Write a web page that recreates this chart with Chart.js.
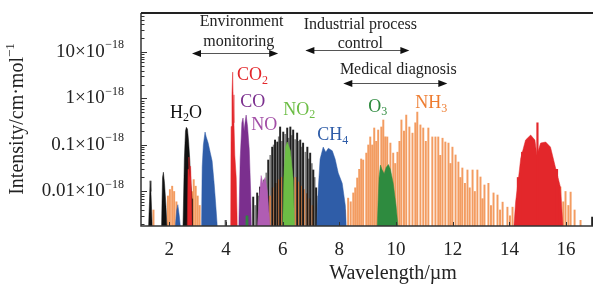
<!DOCTYPE html>
<html><head><meta charset="utf-8">
<script src="https://cdn.jsdelivr.net/npm/chart.js@4"></script>
<style>html,body{margin:0;padding:0;background:#fff;overflow:hidden}</style>
</head><body>
<canvas id="c" width="593" height="290"></canvas>
<script>
// ---------- DATA (wavelength µm, intensity in 1e-18 cm/mol) ----------
const F = 0.0015; // baseline (band edge)
const xTicks = [2, 4, 6, 8, 10, 12, 14, 16];
const yMajor = [10, 1, 0.1, 0.01];
const yMajorLabels = ['10', '1', '0.1', '0.01'];

// H2O (black)
const h2o_13 = [[1.26,F],[1.3,0.006],[1.32,0.017],[1.35,0.01],[1.4,F]];
const h2o_19 = [[1.72,F],[1.76,0.02],[1.79,0.026],[1.83,0.015],[1.88,0.005],[1.92,F]];
const h2o_27 = [[2.48,F],[2.53,0.05],[2.57,0.2],[2.6,0.24],[2.64,0.22],[2.68,0.12],[2.72,0.05],[2.76,0.015],[2.8,0.007],[2.82,F]];
const h2o_63 = [[4.96,0.0076],[5.10,0.0093],[5.20,0.0125],[5.35,0.0177],[5.49,0.0475],[5.63,0.09],[5.73,0.128],[5.81,0.116],[5.91,0.244],[6.02,0.19],[6.16,0.232],[6.27,0.244],[6.37,0.21],[6.51,0.181],[6.62,0.128],[6.72,0.11],[6.87,0.09],[6.97,0.067],[7.08,0.029],[7.18,0.012],[16.92,0.0028]];
const h2o_63w = [[5.03,0.005],[5.15,0.008],[5.28,0.011],[5.42,0.025],[5.56,0.06],[5.68,0.1],[5.86,0.15],[5.97,0.12],[6.09,0.17],[6.21,0.14],[6.32,0.16],[6.44,0.13],[6.56,0.12],[6.67,0.09],[6.80,0.07],[6.92,0.05],[7.03,0.04],[7.13,0.02],[7.25,0.008]];
// NH3 (orange)
const nh3 = [[1.44,0.004],[1.95,0.008],[2.02,0.011],[2.1,0.013],[2.17,0.01],[2.25,0.006],
 [2.8,0.01],[2.86,0.018],[2.93,0.013],[3.0,0.008],[3.07,0.005],
 [5.55,0.008],[5.65,0.012],[5.75,0.015],[5.85,0.018],[5.95,0.02],[6.05,0.022],[6.15,0.02],[6.25,0.017],[6.35,0.015],[6.45,0.02],[6.55,0.016],[6.65,0.013],[6.75,0.011],[6.85,0.009],[6.95,0.007],[7.05,0.005],
 [8.20,0.004],[8.31,0.0072],[8.40,0.006],[8.49,0.0093],[8.56,0.012],[8.63,0.0195],[8.70,0.03],[8.77,0.05],[8.84,0.0475],[8.95,0.067],[9.02,0.1],[9.09,0.149],[9.16,0.1],[9.23,0.232],[9.30,0.12],[9.37,0.21],[9.48,0.244],[9.55,0.345],[9.62,0.15],[9.69,0.149],[9.80,0.11],[9.90,0.067],[9.97,0.04],[10.05,0.07],[10.12,0.12],[10.19,0.345],[10.28,0.2],[10.36,0.44],[10.47,0.244],[10.58,0.18],[10.68,0.3],[10.75,0.51],[10.86,0.27],[10.96,0.232],[11.05,0.12],[11.14,0.232],[11.28,0.149],[11.39,0.149],[11.49,0.149],[11.56,0.06],[11.64,0.14],[11.74,0.116],[11.85,0.11],[11.92,0.04],[11.99,0.09],[12.10,0.061],[12.20,0.043],[12.27,0.02],[12.34,0.032],[12.43,0.015],[12.52,0.029],[12.60,0.012],[12.70,0.029],[12.78,0.01],[12.87,0.029],[12.98,0.0205],[13.05,0.007],[13.12,0.0138],[13.26,0.015],[13.35,0.005],[13.44,0.0093],[13.58,0.0084],[13.67,0.004],[13.76,0.0059],[13.93,0.0046],[14.02,0.003],[14.11,0.0046],
 [15.8,0.0125],[15.9,0.006],[15.98,0.01],[16.08,0.005],[16.16,0.0097],[16.3,0.004],[16.51,0.0024]];
// CO2 (red)
const co2_27 = [[2.63,F],[2.66,0.03],[2.69,0.055],[2.72,0.02],[2.75,0.035],[2.78,0.01],[2.8,F]];
const co2_43 = [[4.16,F],[4.18,0.25],[4.21,1.2],[4.235,3.7],[4.25,1.2],[4.28,0.3],[4.31,0.06],[4.36,0.02],[4.4,F]];
const co2_15 = [[14.15,F],[14.22,0.006],[14.3,0.015],[14.4,0.052],[14.57,0.128],[14.75,0.164],[14.9,0.128],[14.97,0.06],[15.1,0.11],[15.28,0.116],[15.45,0.09],[15.62,0.034],[15.8,0.0125],[15.9,F]];
const co2_lines = [[14.3,0.02],[14.45,0.07],[14.99,0.30],[15.68,0.03]];
// CO, NO, NO2
const co = [[4.45,F],[4.5,0.05],[4.56,0.3],[4.6,0.38],[4.64,0.2],[4.67,0.3],[4.71,0.44],[4.76,0.25],[4.82,0.08],[4.87,0.01],[4.9,F]];
const no = [[5.1,F],[5.18,0.008],[5.24,0.022],[5.3,0.015],[5.38,0.02],[5.46,0.01],[5.56,F]];
const no2 = [[6.0,F],[6.04,0.02],[6.1,0.09],[6.16,0.116],[6.27,0.075],[6.37,0.018],[6.42,F]];
// CH4 (blue)
const ch4_23 = [[2.2,F],[2.26,0.004],[2.3,0.0052],[2.35,0.003],[2.4,F]];
const ch4_33 = [[3.13,F],[3.16,0.034],[3.2,0.1],[3.26,0.19],[3.3,0.15],[3.37,0.11],[3.44,0.07],[3.51,0.045],[3.58,0.015],[3.63,0.006],[3.7,F]];
const ch4_77 = [[7.2,F],[7.25,0.01],[7.32,0.05],[7.43,0.09],[7.52,0.07],[7.61,0.085],[7.75,0.075],[7.85,0.05],[7.96,0.025],[8.1,0.015],[8.21,0.005],[8.25,F]];
// O3 (dark green)
const o3_96 = [[9.33,F],[9.4,0.02],[9.45,0.037],[9.5,0.03],[9.58,0.024],[9.65,0.033],[9.73,0.038],[9.8,0.03],[9.9,0.015],[10.0,0.005],[10.08,F]];
const o3_47 = [[4.69,F],[4.7,0.003],[4.76,0.003],[4.77,F]];
// other (gray)
const misc = [[3.99,0.0024]];

// ---------- COLORS ----------
const C = {
  h2o:'#111111', comb:'rgba(10,10,10,0.9)', combw:'rgba(90,90,90,0.75)', nh3:'rgba(240,128,52,0.78)', co2:'#e3272b',
  co:'#7b2f8e', no:'#b05db3', no2:'#6cbd45', ch4:'#2f5da8', o3:'#2e8b3f', misc:'#555555'
};
const LBL = {h2o:'#111', co2:'#e3272b', co:'#7b2f8e', no:'#a24ea6', no2:'#6cbd45', ch4:'#2f5da8', o3:'#2e8b3f', nh3:'#ee7d31'};

const pts = a => a.map(p => ({x:p[0], y:p[1]}));
const band = (d, col, ord) => ({type:'line', data:pts(d), backgroundColor:col, borderColor:col, borderWidth:0.5, fill:'start', pointRadius:0, tension:0, order:ord});
const lines = (d, col, ord, w) => ({type:'bar', data:pts(d), backgroundColor:col, borderWidth:0, barThickness:w, grouped:false, order:ord});

const FONT = "'Liberation Serif','Times New Roman',serif";

function drawRich(ctx, str, x, y, size, color, align) {
  const parts = [];
  for (let i = 0; i < str.length; i++) {
    if (str[i] === '_') { parts.push({t:str[i+1], sub:true}); i++; }
    else { if (parts.length && !parts[parts.length-1].sub) parts[parts.length-1].t += str[i]; else parts.push({t:str[i], sub:false}); }
  }
  const ss = Math.round(size*0.68);
  let w = 0;
  parts.forEach(p => { ctx.font = (p.sub?ss:size)+'px '+FONT; p.w = ctx.measureText(p.t).width; w += p.w; });
  let cx = align === 'center' ? x - w/2 : x;
  ctx.fillStyle = color; ctx.textBaseline = 'middle'; ctx.textAlign = 'left';
  parts.forEach(p => { ctx.font = (p.sub?ss:size)+'px '+FONT; ctx.fillText(p.t, cx, p.sub ? y + size*0.3 : y); cx += p.w; });
}

function arrow(ctx, x1, x2, y) {
  ctx.strokeStyle = '#555'; ctx.lineWidth = 1;
  ctx.beginPath(); ctx.moveTo(x1+4, y); ctx.lineTo(x2-4, y); ctx.stroke();
  ctx.fillStyle = '#111';
  ctx.beginPath(); ctx.moveTo(x1, y); ctx.lineTo(x1+9, y-3.5); ctx.lineTo(x1+9, y+3.5); ctx.closePath(); ctx.fill();
  ctx.beginPath(); ctx.moveTo(x2, y); ctx.lineTo(x2-9, y-3.5); ctx.lineTo(x2-9, y+3.5); ctx.closePath(); ctx.fill();
}

// annotation anchors in data units
const speciesLabels = [
  {t:'H_2O', x:2.02, y:0.49, c:LBL.h2o},
  {t:'CO_2', x:4.39, y:3.2, c:LBL.co2},
  {t:'CO', x:4.5, y:0.84, c:LBL.co},
  {t:'NO', x:4.89, y:0.27, c:LBL.no},
  {t:'NO_2', x:6.02, y:0.57, c:LBL.no2},
  {t:'CH_4', x:7.22, y:0.164, c:LBL.ch4},
  {t:'O_3', x:9.02, y:0.66, c:LBL.o3},
  {t:'NH_3', x:10.68, y:0.8, c:LBL.nh3}
];
const appLabels = [
  {t:'Environment', x:4.55, y:44}, {t:'monitoring', x:4.45, y:16.4},
  {t:'Industrial process', x:8.74, y:38}, {t:'control', x:8.74, y:14.9},
  {t:'Medical diagnosis', x:10.08, y:4.1}
];
const arrows = [{x1:2.8, x2:5.84, y:9.5}, {x1:6.8, x2:10.47, y:11}, {x1:8.14, x2:11.81, y:2.15}];

const deco = {
  id:'deco',
  afterDraw(chart) {
    const ctx = chart.ctx, xs = chart.scales.x, ys = chart.scales.y;
    const {left, right, top, bottom} = chart.chartArea;
    ctx.save();
    ctx.strokeStyle = '#333'; ctx.lineWidth = 1.5;
    ctx.beginPath(); ctx.moveTo(left, top); ctx.lineTo(left, bottom); ctx.lineTo(right, bottom); ctx.stroke();
    ctx.lineWidth = 2.2; ctx.strokeStyle = '#222';
    ctx.beginPath(); ctx.moveTo(left, top); ctx.lineTo(right, top); ctx.stroke();
    ctx.lineWidth = 1; ctx.strokeStyle = '#333';
    for (let e = -3; e <= 1; e++) {
      for (let k = 1; k <= 9; k++) {
        const v = k * Math.pow(10, e);
        if (v < ys.min || v > ys.max) continue;
        const py = Math.round(ys.getPixelForValue(v)) + 0.5;
        ctx.beginPath(); ctx.moveTo(left, py); ctx.lineTo(left + (k === 1 ? 6 : 3.5), py); ctx.stroke();
      }
    }
    xTicks.forEach(v => { const px = Math.round(xs.getPixelForValue(v)) + 0.5;
      ctx.beginPath(); ctx.moveTo(px, bottom); ctx.lineTo(px, bottom - 4); ctx.stroke(); });
    ctx.fillStyle = '#222'; ctx.font = '19px ' + FONT; ctx.textAlign = 'center'; ctx.textBaseline = 'middle';
    xTicks.forEach(v => ctx.fillText(String(v), xs.getPixelForValue(v), bottom + 24));
    yMajor.forEach((v, i) => {
      const py = ys.getPixelForValue(v);
      ctx.font = '12px ' + FONT; const sw = ctx.measureText('\u221218').width;
      const rx = 124;
      ctx.textAlign = 'right'; ctx.textBaseline = 'middle';
      ctx.fillText('\u221218', rx, py - 7);
      ctx.font = '19px ' + FONT;
      ctx.fillText(yMajorLabels[i] + '\u00d710', rx - sw - 0.5, py);
    });
    ctx.font = '20px ' + FONT; ctx.textAlign = 'center'; ctx.textBaseline = 'middle';
    ctx.fillText('Wavelength/\u00b5m', 393, 274);
    ctx.save(); ctx.translate(18, 119); ctx.rotate(-Math.PI/2);
    ctx.font = '20px ' + FONT; const mw = ctx.measureText('Intensity/cm\u00b7mol').width;
    ctx.font = '13px ' + FONT; const ew = ctx.measureText('\u22121').width;
    const sx = -(mw + ew) / 2;
    ctx.textAlign = 'left'; ctx.font = '20px ' + FONT; ctx.fillText('Intensity/cm\u00b7mol', sx, 0);
    ctx.font = '13px ' + FONT; ctx.fillText('\u22121', sx + mw, -7);
    ctx.restore();
    ctx.fillStyle = '#222';
    appLabels.forEach(l => { ctx.font = '16px ' + FONT; ctx.textAlign = 'center'; ctx.textBaseline = 'middle';
      ctx.fillText(l.t, xs.getPixelForValue(l.x), ys.getPixelForValue(l.y)); });
    arrows.forEach(a => arrow(ctx, xs.getPixelForValue(a.x1), xs.getPixelForValue(a.x2), Math.round(ys.getPixelForValue(a.y)) + 0.5));
    speciesLabels.forEach(l => drawRich(ctx, l.t, xs.getPixelForValue(l.x), ys.getPixelForValue(l.y), 18, l.c, 'left'));
    ctx.restore();
  }
};

new Chart(document.getElementById('c'), {
  type: 'bar',
  data: { datasets: [
    band(no2, C.no2, 1),
    band(o3_96, C.o3, 2),
    band(o3_47, C.o3, 2),
    lines(co2_lines, C.co2, 3, 1.5),
    band(co2_15, C.co2, 3),
    band(co2_43, C.co2, 3),
    band(co2_27, C.co2, 3),
    band(co, C.co, 4),
    band(no, C.no, 5),
    band(ch4_23, C.ch4, 6),
    band(ch4_33, C.ch4, 6),
    band(ch4_77, C.ch4, 6),
    band(h2o_13, C.h2o, 7),
    band(h2o_19, C.h2o, 7),
    band(h2o_27, C.h2o, 7),
    lines(h2o_63, C.comb, 8, 1.3),
    lines(nh3, C.nh3, 9, 1.3),
    lines(h2o_63w, C.combw, 10, 1),
    lines(misc, C.misc, 11, 1.5)
  ]},
  options: {
    responsive: false, animation: false, devicePixelRatio: 1,
    layout: { padding: { left: 141, top: 13, right: 0, bottom: 64 } },
    plugins: { legend: { display: false }, tooltip: { enabled: false } },
    scales: {
      x: { type: 'linear', min: 1, max: 16.95, offset: false, display: false },
      y: { type: 'logarithmic', min: 0.00181, max: 69, display: false }
    }
  },
  plugins: [deco]
});
</script>
</body></html>
